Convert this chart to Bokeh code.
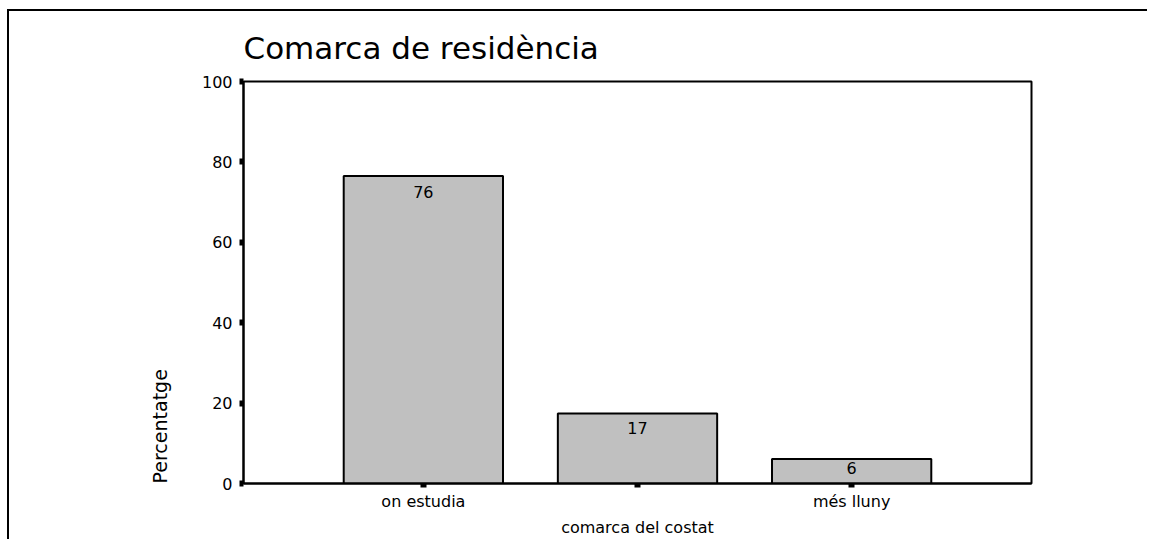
from bokeh.plotting import figure
from bokeh.models import Range1d, FixedTicker, LinearAxis, Title
from bokeh.core.properties import value
from bokeh.embed import file_html
from bokeh.resources import INLINE

# ---- data ----
categories = ["on estudia", "comarca del costat", "més lluny"]
percentages = [76.5, 17.4, 6.1]
bar_labels = ["76", "17", "6"]
y_ticks = [0, 20, 40, 60, 80, 100]
title_text = "Comarca de residència"
y_label = "Percentatge"

FONT = "DejaVu Sans"
idx = list(range(len(categories)))
label_offsets = [10, 8, 3]  # style: pixel offsets of the value labels

p = figure(width=1140, height=530, output_backend="svg", toolbar_location=None,
           x_range=Range1d(-0.84, 2.84), y_range=Range1d(0, 100),
           min_border_left=234, min_border_right=118, min_border_top=70, min_border_bottom=58,
           styles={"border-top": "2px solid black", "border-left": "2px solid black",
                   "margin-left": "7px", "margin-top": "9px"})
p.background_fill_color = "white"
p.border_fill_color = "white"
p.outline_line_color = "black"
p.outline_line_width = 2
p.xgrid.visible = False
p.ygrid.visible = False

p.title.text = title_text
p.title.align = "left"
p.title.text_font = FONT
p.title.text_font_size = "31px"
p.title.text_font_style = "normal"
p.title.text_color = "black"
p.title.standoff = 31

p.vbar(x=idx, top=percentages, width=0.744, fill_color="#c0c0c0",
       line_color="black", line_width=2)
p.text(x=idx, y=percentages, text=bar_labels, text_align="center", text_baseline="top",
       y_offset=label_offsets, text_font=value(FONT), text_font_size="16px", text_color="black")

# y axis
ya = p.yaxis[0]
ya.ticker = FixedTicker(ticks=y_ticks)
ya.axis_line_color = "black"
ya.axis_line_width = 2
ya.major_tick_in = 0
ya.major_tick_out = 4
ya.major_tick_line_width = 6
ya.minor_tick_line_color = None
ya.major_label_standoff = 7
ya.major_label_text_font = FONT
ya.major_label_text_font_size = "16px"
ya.major_label_text_color = "black"

# x axis (first row of labels)
xa = p.xaxis[0]
xa.ticker = FixedTicker(ticks=idx)
xa.major_label_overrides = {i: (categories[i] if i % 2 == 0 else "") for i in idx}
xa.axis_line_color = "black"
xa.axis_line_width = 2
xa.major_tick_in = 0
xa.major_tick_out = 4
xa.major_tick_line_width = 6
xa.minor_tick_line_color = None
xa.major_label_standoff = 4
xa.major_label_text_font = FONT
xa.major_label_text_font_size = "16px"
xa.major_label_text_color = "black"

# x axis (second, staggered row of labels)
xa2 = LinearAxis(ticker=FixedTicker(ticks=[i for i in idx if i % 2 == 1]),
                 major_label_overrides={i: categories[i] for i in idx if i % 2 == 1})
xa2.axis_line_color = None
xa2.major_tick_line_color = None
xa2.minor_tick_line_color = None
xa2.major_tick_in = 0
xa2.major_tick_out = 0
xa2.major_label_standoff = 4
xa2.major_label_text_font = FONT
xa2.major_label_text_font_size = "16px"
xa2.major_label_text_color = "black"
p.add_layout(xa2, "below")

# y axis title, bottom-aligned on the left
p.add_layout(Title(text=y_label, align="left", standoff=56, text_font=FONT,
                   text_font_size="19px", text_font_style="normal", text_color="black"),
             "left")

open("out.html", "w").write(file_html(p, INLINE))
